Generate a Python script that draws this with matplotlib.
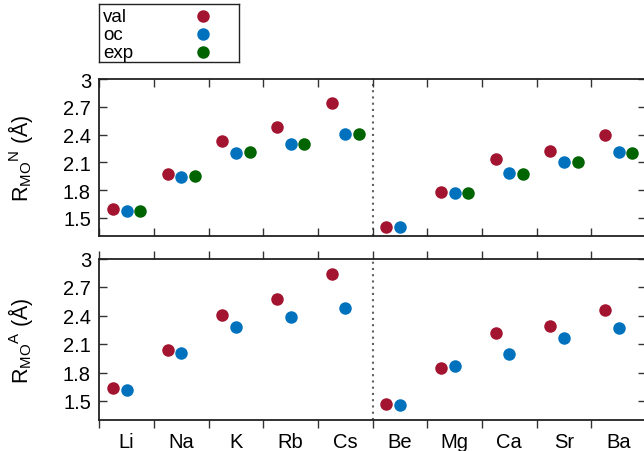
import matplotlib
matplotlib.use("Agg")
import matplotlib.pyplot as plt
import numpy as np

plt.rcParams['font.family'] = ['Liberation Sans', 'DejaVu Sans']
plt.rcParams['mathtext.fontset'] = 'custom'
plt.rcParams['mathtext.rm'] = 'Liberation Sans'
plt.rcParams['mathtext.it'] = 'Liberation Sans:italic'

elements = ["Li", "Na", "K", "Rb", "Cs", "Be", "Mg", "Ca", "Sr", "Ba"]

# top panel (R_MO^N)
val_N = [1.596, 1.974, 2.330, 2.481, 2.737, 1.405, 1.776, 2.136, 2.219, 2.395]
oc_N = [1.578, 1.938, 2.204, 2.297, 2.402, 1.398, 1.765, 1.985, 2.107, 2.211]
exp_N = [1.578, 1.949, 2.211, 2.297, 2.402, None, 1.765, 1.974, 2.107, 2.197]

# bottom panel (R_MO^A)
val_A = [1.635, 2.042, 2.406, 2.572, 2.842, 1.466, 1.845, 2.221, 2.291, 2.459]
oc_A = [1.617, 2.003, 2.277, 2.382, 2.477, 1.456, 1.866, 1.993, 2.161, 2.266]

yticks = [1.5, 1.8, 2.1, 2.4, 2.7, 3.0]
ytick_labels = ["1.5", "1.8", "2.1", "2.4", "2.7", "3"]

series_names = ["val", "oc", "exp"]
colors = {"val": "#A2142F", "oc": "#0072BD", "exp": "#006400"}
offsets = {"val": 0.25, "oc": 0.5, "exp": 0.75}

W, H = 644, 452
fig = plt.figure(figsize=(W / 100, H / 100), dpi=100)

def fx(px):
    return px / W

def fy(py):
    return 1 - py / H

ax1 = fig.add_axes([fx(99.3), fy(237.3), fx(646 - 99.3), fy(80) - fy(237.3)])
ax2 = fig.add_axes([fx(99.3), fy(421), fx(646 - 99.3), fy(259.5) - fy(421)])

ms = 9.0
fs = 14.5
lfs = 15.5

def draw(ax, data, label, xdir):
    n = len(elements)
    for name, vals in data.items():
        xs = [i + offsets[name] for i, v in enumerate(vals) if v is not None]
        ys = [v for v in vals if v is not None]
        ax.plot(xs, ys, 'o', color=colors[name], ms=ms, mew=0, zorder=3)
    ax.axvline(5, color='#606060', lw=1.5, ls=(0, (1, 2)), zorder=1)
    ax.set_xlim(0, n)
    ax.set_ylim(1.3, 3.0)
    ax.set_xticks(np.arange(0, n + 1))
    ax.set_xticks(np.arange(n) + 0.5, minor=True)
    ax.set_xticklabels([])
    ax.set_yticks(yticks)
    ax.set_yticklabels(ytick_labels)
    ax.tick_params(axis='y', which='major', direction='in', length=6, width=1,
                   right=True, labelsize=fs, pad=6, color='#333333')
    ax.tick_params(axis='x', which='major', direction=xdir, length=6, width=1,
                   top=True, color='#333333')
    ax.tick_params(axis='x', which='minor', length=0, labelsize=fs, pad=8.5)
    for s in ax.spines.values():
        s.set_linewidth(1.3)
        s.set_color('#222222')
    ax.set_ylabel(label, fontsize=lfs)
    ax.yaxis.set_label_coords(-0.118, 0.5)

draw(ax1, {"val": val_N, "oc": oc_N, "exp": exp_N},
     r'$\mathrm{R_{MO}{}^{N}}$ (Å)', 'in')
draw(ax2, {"val": val_A, "oc": oc_A},
     r'$\mathrm{R_{MO}{}^{A}}$ (Å)', 'out')
ax1.set_xticklabels([], minor=True)
ax2.set_xticklabels(elements, minor=True)

# legend box
lax = fig.add_axes([fx(99), fy(63), fx(239 - 99), fy(5) - fy(63)])
lax.set_xlim(0, 1)
lax.set_ylim(0, 1)
lax.set_xticks([])
lax.set_yticks([])
for s in lax.spines.values():
    s.set_linewidth(1.0)
    s.set_color('#222222')
row_y = [0.79, 0.48, 0.17]
for name, yy in zip(series_names, row_y):
    lax.text(0.03, yy, name, fontsize=13.5, va='center', ha='left')
    lax.plot([0.743], [yy], 'o', color=colors[name], ms=ms, mew=0)

fig.savefig("out.png", dpi=100)
